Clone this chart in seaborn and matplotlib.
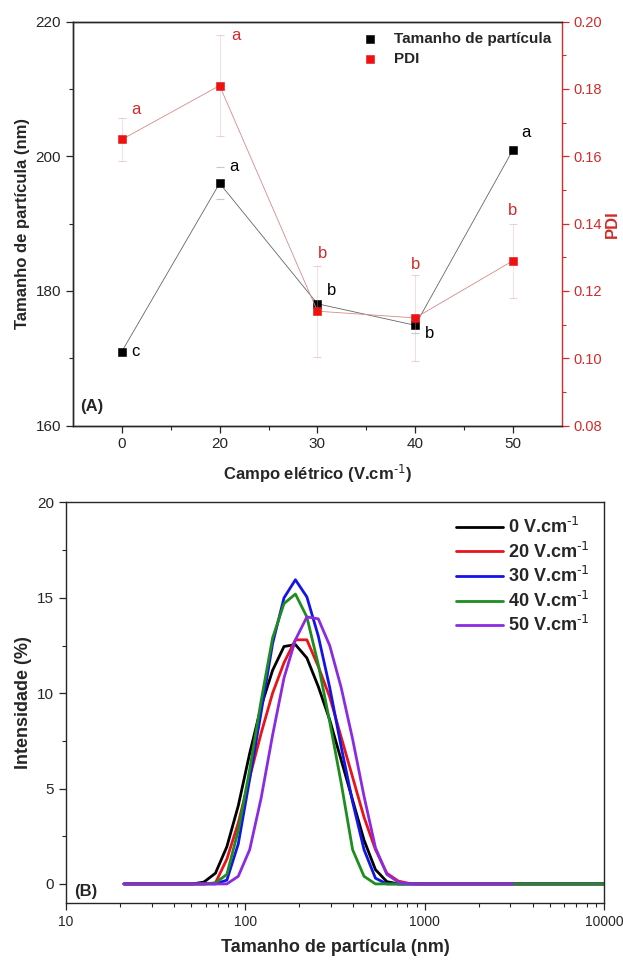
import matplotlib
matplotlib.use("Agg")
import matplotlib.pyplot as plt
import matplotlib.ticker as mticker
import seaborn as sns
import numpy as np
import pandas as pd

# ---- panel A: particle size and PDI vs electric field ----
campo = ["0", "20", "30", "40", "50"]
tamanho = [171.0, 196.0, 178.1, 174.9, 201.0]
tamanho_err = [0.0, 2.4, 0.0, 1.2, 0.0]
pdi = [0.165, 0.181, 0.114, 0.112, 0.129]
pdi_err = [0.0064, 0.015, 0.0135, 0.0127, 0.011]
letras_tam = ["c", "a", "b", "b", "a"]
letras_pdi = ["a", "a", "b", "b", "b"]

# ---- panel B: size distributions by intensity ----
bins = [21.04, 24.36, 28.21, 32.67, 37.84, 43.82, 50.75, 58.77, 68.06, 78.82,
        91.28, 105.7, 122.4, 141.8, 164.2, 190.1, 220.2, 255.0, 295.3, 342.0,
        396.1, 458.7, 531.2, 615.1, 712.4, 825.0, 955.4, 1106, 1281, 1484,
        1718, 1990, 2305, 2669, 3091, 3580, 4145, 4801, 5560, 6439, 7456,
        8635, 10000]
int_0 = [0, 0, 0, 0, 0, 0, 0, 0.1, 0.56, 1.95, 4.1, 6.85, 9.3, 11.2, 12.45,
         12.55, 11.85, 10.35, 8.6, 6.5, 4.4, 2.3, 0.75, 0.12, 0, 0, 0, 0, 0, 0,
         0, 0, 0, 0, 0, 0, 0, 0, 0, 0, 0, 0, 0]
int_20 = [0, 0, 0, 0, 0, 0, 0, 0, 0.05, 1.3, 3.2, 5.6, 7.9, 10.0, 11.6, 12.8,
          12.8, 11.4, 9.8, 7.7, 5.6, 3.5, 1.8, 0.56, 0.15, 0.02, 0, 0, 0, 0,
          0, 0, 0, 0, 0, 0, 0, 0, 0, 0, 0, 0, 0]
int_30 = [0, 0, 0, 0, 0, 0, 0, 0, 0, 0.2, 2.1, 5.5, 9.0, 12.6, 15.0, 15.95,
          15.05, 13.0, 10.3, 7.2, 4.3, 1.8, 0.3, 0, 0, 0, 0, 0, 0, 0, 0, 0, 0,
          0, 0, 0, 0, 0, 0, 0, 0, 0, 0]
int_40 = [0, 0, 0, 0, 0, 0, 0, 0, 0.05, 0.5, 2.8, 6.0, 9.6, 12.9, 14.7, 15.2,
          14.0, 11.5, 8.5, 5.3, 1.8, 0.4, 0, 0, 0, 0, 0, 0, 0, 0, 0, 0, 0, 0,
          0, 0, 0, 0, 0, 0, 0, 0, 0]
int_50 = [0, 0, 0, 0, 0, 0, 0, 0, 0, 0, 0.4, 1.8, 4.5, 7.8, 10.8, 12.8, 14.0,
          13.9, 12.5, 10.3, 7.6, 4.6, 1.9, 0.5, 0.1, 0, 0, 0, 0, 0, 0, 0, 0,
          0, 0]
rotulos = [r"0 V.cm$^{\text{-1}}$", r"20 V.cm$^{\text{-1}}$", r"30 V.cm$^{\text{-1}}$",
           r"40 V.cm$^{\text{-1}}$", r"50 V.cm$^{\text{-1}}$"]
cores = ["#000000", "#e8141c", "#1414e6", "#1e8c1e", "#8a2be2"]

sns.set_style("ticks")
plt.rcParams["font.family"] = ["Liberation Sans", "DejaVu Sans"]
plt.rcParams["xtick.direction"] = "out"
plt.rcParams["ytick.direction"] = "out"
plt.rcParams["mathtext.default"] = "regular"

vermelho = "#d42a2a"
fig = plt.figure(figsize=(6.23, 9.63), dpi=100)

# ================= (A) =================
ax = fig.add_axes([0.117, 0.558, 0.785, 0.4195])
ax2 = ax.twinx()
pos = np.arange(len(campo))
dfa = pd.DataFrame({"pos": pos, "tamanho": tamanho, "pdi": pdi})

ax.errorbar(pos, tamanho, yerr=tamanho_err, fmt="none", ecolor="#c8c8c8",
            elinewidth=0, capsize=3, capthick=0.8)
sns.lineplot(data=dfa, x="pos", y="tamanho", ax=ax, color="#666666", lw=0.6)
sns.scatterplot(data=dfa, x="pos", y="tamanho", ax=ax, color="black", marker="s",
                s=26, edgecolor="black", zorder=5, label="Tamanho de partícula")

ax2.errorbar(pos, pdi, yerr=pdi_err, fmt="none", ecolor="#dca4a4",
             elinewidth=0.5, capsize=3, capthick=0.8, alpha=0.5)
sns.lineplot(data=dfa, x="pos", y="pdi", ax=ax2, color="#d88a8a", lw=0.6)
sns.scatterplot(data=dfa, x="pos", y="pdi", ax=ax2, color="#ee1111", marker="s",
                s=26, edgecolor="#ee1111", zorder=5, label="PDI")

off_tam = [(0.1, 0.0), (0.1, 2.5), (0.1, 2.0), (0.1, -1.2), (0.08, 2.6)]
for i, l in enumerate(letras_tam):
    ax.text(pos[i] + off_tam[i][0], tamanho[i] + off_tam[i][1], l, fontsize=12,
            va="center", ha="left", color="black")
off_pdi = [(0.1, 0.009), (0.12, 0.015), (0.05, 0.017), (0.0, 0.016), (0.0, 0.015)]
for i, l in enumerate(letras_pdi):
    ax2.text(pos[i] + off_pdi[i][0], pdi[i] + off_pdi[i][1], l, fontsize=12,
             va="center", ha="center" if off_pdi[i][0] < 0.06 else "left",
             color=vermelho)

ax.set_xlim(-0.5, 4.5)
ax.set_ylim(160, 220)
ax2.set_ylim(0.08, 0.20)
ax.set_xticks(pos)
ax.set_xticklabels(campo)
ax.xaxis.set_minor_locator(mticker.FixedLocator(pos[:-1] + 0.5))
ax.set_yticks([160, 180, 200, 220])
ax.yaxis.set_minor_locator(mticker.MultipleLocator(10))
ax2.set_yticks([0.08, 0.10, 0.12, 0.14, 0.16, 0.18, 0.20])
ax2.yaxis.set_major_formatter(mticker.FormatStrFormatter("%.2f"))
ax2.yaxis.set_minor_locator(mticker.MultipleLocator(0.01))
ax.tick_params(labelsize=11, length=5, width=0.9)
ax.tick_params(which="minor", length=3, width=0.8)
ax2.tick_params(labelsize=10.5, length=5, width=0.9, colors=vermelho, pad=3)
ax2.tick_params(which="minor", length=3, width=0.8, colors=vermelho)
ax2.spines["right"].set_color(vermelho)
for s in ["left", "top", "bottom"]:
    ax.spines[s].set_linewidth(1.0)
    ax2.spines[s].set_linewidth(1.0)
ax2.spines["right"].set_linewidth(1.0)
ax.spines["right"].set_visible(False)
ax.spines["top"].set_visible(True)

ax.set_xlabel(r"Campo elétrico (V.cm$^{\text{-1}}$)", fontsize=12,
              fontweight="bold", labelpad=8)
ax.set_ylabel("Tamanho de partícula (nm)", fontsize=12, fontweight="bold")
ax2.set_ylabel("PDI", fontsize=12, fontweight="bold", color=vermelho, labelpad=2)
ax.text(0.015, 0.03, "(A)", transform=ax.transAxes, fontsize=12,
        fontweight="bold", ha="left", va="bottom")

h1, l1 = ax.get_legend_handles_labels()
h2, l2 = ax2.get_legend_handles_labels()
if ax2.get_legend():
    ax2.get_legend().remove()
ax.legend(h1 + h2, l1 + l2, loc="upper right", frameon=False,
          prop={"weight": "bold", "size": 11}, handletextpad=0.6,
          borderaxespad=0.3, labelspacing=0.35)

# ================= (B) =================
bx = fig.add_axes([0.106, 0.0623, 0.8636, 0.4159])
series = [int_0, int_20, int_30, int_40, int_50]
linhas = []
for r, v in zip(rotulos, series):
    linhas.append(pd.DataFrame({"tamanho": bins[:len(v)], "intensidade": v,
                                "campo": r}))
dfb = pd.concat(linhas, ignore_index=True)
sns.lineplot(data=dfb, x="tamanho", y="intensidade", hue="campo",
             hue_order=rotulos, palette=cores, lw=2, ax=bx, sort=False,
             estimator=None)
bx.set_xscale("log")
bx.set_xlim(10, 10000)
bx.set_ylim(-1, 20)
bx.set_xticks([10, 100, 1000, 10000])
bx.xaxis.set_major_formatter(mticker.FuncFormatter(lambda v, p: f"{int(v)}"))
bx.xaxis.set_minor_locator(mticker.LogLocator(base=10, subs=np.arange(2, 10)))
bx.xaxis.set_minor_formatter(mticker.NullFormatter())
bx.set_yticks([0, 5, 10, 15, 20])
bx.yaxis.set_minor_locator(mticker.MultipleLocator(2.5))
bx.tick_params(axis="y", labelsize=11, length=5, width=0.9)
bx.tick_params(axis="x", labelsize=10, length=5, width=0.9)
bx.tick_params(which="minor", length=3, width=0.8)
for s in bx.spines.values():
    s.set_visible(True)
    s.set_linewidth(1.0)
bx.set_xlabel("Tamanho de partícula (nm)", fontsize=13, fontweight="bold",
              labelpad=7)
bx.set_ylabel("Intensidade (%)", fontsize=13, fontweight="bold")
bx.text(0.015, 0.01, "(B)", transform=bx.transAxes, fontsize=12,
        fontweight="bold", ha="left", va="bottom")
bx.legend(title=None, loc="upper right", frameon=False,
          prop={"weight": "bold", "size": 13}, handlelength=2.6,
          handletextpad=0.3, labelspacing=0.25, borderaxespad=0.4)

fig.savefig("out.png", dpi=100)
